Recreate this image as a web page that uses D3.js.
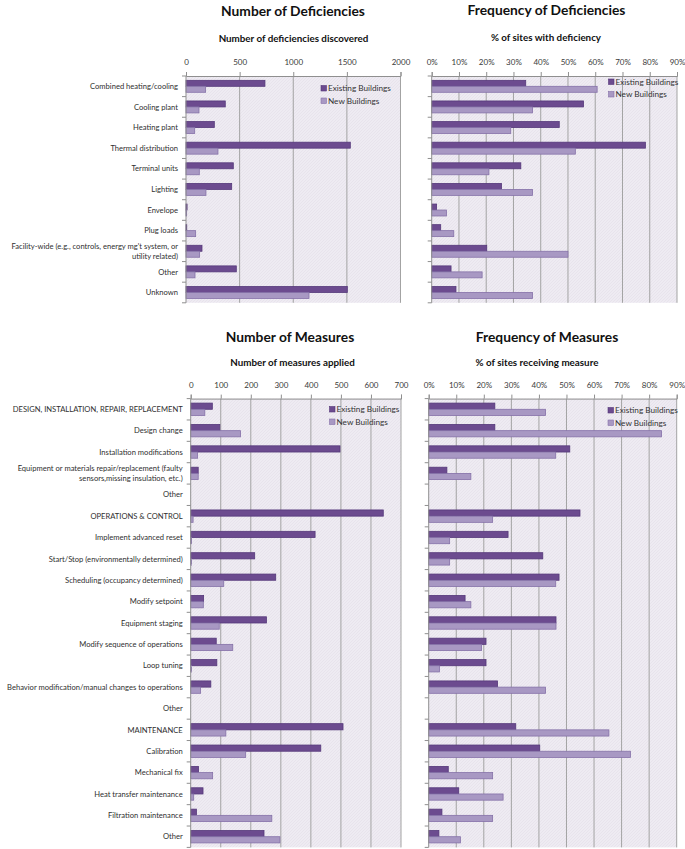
<!DOCTYPE html>
<html><head><meta charset="utf-8">
<script src="https://cdn.jsdelivr.net/npm/d3@7"></script>
<style>
body{margin:0;background:#fff;}
svg{display:block;font-family:Lato, "Open Sans", sans-serif;}
</style></head>
<body><svg id="c" width="685" height="849"></svg>
<script>
// ---------- data ----------
const seriesNames = ["Existing Buildings", "New Buildings"];

const defCategories = ["Combined heating/cooling","Cooling plant","Heating plant","Thermal distribution","Terminal units","Lighting","Envelope","Plug loads","Facility-wide (e.g., controls, energy mg't system, or\nutility related)","Other","Unknown"];
const defCountExisting = [736, 366, 264, 1532, 441, 426, 10, 7, 149, 469, 1504];
const defCountNew      = [183, 121, 81, 298, 124, 186, 6, 90, 127, 84, 1147];
const defFreqExisting  = [34.5, 55.7, 46.8, 78.4, 32.7, 25.6, 1.8, 3.3, 20.2, 7.1, 8.9];
const defFreqNew       = [60.7, 37.0, 29.0, 52.7, 21.0, 37.0, 5.4, 8.1, 50.0, 18.5, 37.0];

const measCategories = ["DESIGN, INSTALLATION, REPAIR, REPLACEMENT","Design change","Installation modifications","Equipment or materials repair/replacement (faulty\nsensors,missing insulation, etc.)","Other","OPERATIONS & CONTROL","Implement advanced reset","Start/Stop (environmentally determined)","Scheduling (occupancy determined)","Modify setpoint","Equipment staging","Modify sequence of operations","Loop tuning","Behavior modification/manual changes to operations","Other","MAINTENANCE","Calibration","Mechanical fix","Heat transfer maintenance","Filtration maintenance","Other"];
const measCountExisting = [72, 97, 497, 25, 0, 641, 414, 213, 283, 43, 252, 85, 87, 67, 0, 507, 433, 26, 41, 19, 244];
const measCountNew      = [47, 166, 23, 25, 0, 8, 3, 3, 110, 42, 95, 140, 3, 33, 0, 117, 183, 73, 10, 270, 297];
const measFreqExisting  = [24.0, 24.0, 51.2, 6.6, 0, 54.9, 28.8, 41.4, 47.3, 13.2, 46.2, 20.8, 20.8, 25.0, 0, 31.6, 40.3, 7.1, 10.9, 4.8, 3.7];
const measFreqNew       = [42.4, 84.5, 46.1, 15.3, 0, 23.2, 7.6, 7.6, 46.1, 15.3, 46.2, 19.2, 3.9, 42.4, 0, 65.4, 73.2, 23.2, 27.0, 23.2, 11.5];

const defCountTicks = [0, 500, 1000, 1500, 2000];
const measCountTicks = [0, 100, 200, 300, 400, 500, 600, 700];
const pctTicks = [0, 10, 20, 30, 40, 50, 60, 70, 80, 90];

const titles = ["Number of Deficiencies", "Frequency of Deficiencies", "Number of Measures", "Frequency of Measures"];
const subtitles = ["Number of deficiencies discovered", "% of sites with deficiency", "Number of measures applied", "% of sites receiving measure"];

// ---------- drawing ----------
const svg = d3.select("#c");
const colors = {fill: ["#6c4b8f", "#a898c3"], stroke: ["#55387a", "#8571a8"]};

const defs = svg.append("defs");
const pat = defs.append("pattern").attr("id", "hatch").attr("patternUnits", "userSpaceOnUse")
  .attr("width", 3).attr("height", 3);
pat.append("rect").attr("width", 3).attr("height", 3).attr("fill", "#eeebf2");
pat.append("path").attr("d", "M0,3 L3,0").attr("stroke", "#e5e0ea").attr("stroke-width", 0.7);

function panel(o) {
  const g = svg.append("g");
  const x = d3.scaleLinear().domain([o.ticks[0], o.ticks[o.ticks.length - 1]]).range([o.x0, o.x1]);
  const y = d3.scaleBand().domain(d3.range(o.cats.length)).range([o.top, o.bottom])
    .paddingInner(0.42).paddingOuter(0.21);
  const ys = d3.scaleBand().domain([0, 1]).range([0, y.bandwidth()]);

  // background
  g.append("rect").attr("x", o.x0).attr("y", o.top).attr("width", o.x1 - o.x0).attr("height", o.bottom - o.top)
    .attr("fill", "url(#hatch)");
  // grid
  g.selectAll(".grid").data(o.ticks.slice(1)).join("line")
    .attr("x1", d => x(d)).attr("x2", d => x(d)).attr("y1", o.top).attr("y2", o.bottom)
    .attr("stroke", "#a3a3a3").attr("stroke-width", 1);

  // bars
  const rows = o.cats.map((c, i) => ({i, v: [o.ex[i], o.nw[i]]}));
  rows.forEach(r => {
    r.v.forEach((v, s) => {
      if (v <= 0) return;
      g.append("rect")
        .attr("x", x(0)).attr("y", y(r.i) + ys(s))
        .attr("width", x(v) - x(0)).attr("height", ys.bandwidth())
        .attr("fill", colors.fill[s]).attr("stroke", colors.stroke[s]).attr("stroke-width", 0.8);
    });
  });

  // top axis
  const ax = d3.axisTop(x).tickValues(o.ticks).tickFormat(o.fmt).tickSize(4).tickPadding(7);
  const axg = g.append("g").attr("transform", `translate(0,${o.top})`).call(ax);
  axg.select(".domain").attr("stroke", "#8f8f8f");
  axg.selectAll(".tick line").attr("stroke", "#8f8f8f");
  axg.selectAll(".tick text").attr("fill", "#3a3a3a").attr("font-size", 8).attr("font-family", "Lato");

  // left axis line and ticks at band boundaries
  g.append("line").attr("x1", o.x0).attr("x2", o.x0).attr("y1", o.top).attr("y2", o.bottom)
    .attr("stroke", "#8f8f8f");
  const step = y.step();
  g.selectAll(".ytick").data(d3.range(o.cats.length + 1)).join("line")
    .attr("x1", o.x0 - 4).attr("x2", o.x0)
    .attr("y1", d => o.top + d * step).attr("y2", d => o.top + d * step)
    .attr("stroke", "#8f8f8f");

  // category labels
  if (o.labels) {
    o.cats.forEach((c, i) => {
      const lines = c.split("\n");
      const cy = y(i) + y.bandwidth() / 2;
      const t = g.append("text").attr("x", o.x0 - 8).attr("text-anchor", "end")
        .attr("font-size", 7.6).attr("fill", "#2f2f2f");
      lines.forEach((l, k) => {
        t.append("tspan").attr("x", o.x0 - 8)
          .attr("y", cy + (k - (lines.length - 1) / 2) * 10.5)
          .attr("dy", "0.35em").text(l);
      });
    });
  }

  // titles
  svg.append("text").attr("x", o.tx).attr("y", o.ty).attr("text-anchor", "middle")
    .attr("dy", "0.35em").attr("font-size", 13.8).attr("font-weight", "bold").attr("fill", "#111").text(o.title);
  svg.append("text").attr("x", o.sx).attr("y", o.sy).attr("text-anchor", "middle")
    .attr("dy", "0.35em").attr("font-size", 9.8).attr("font-weight", "bold").attr("fill", "#111").text(o.sub);

  // legend
  seriesNames.forEach((n, s) => {
    const ly = o.ly + s * 12.5;
    g.append("rect").attr("x", o.lx).attr("y", ly - 3).attr("width", 5.5).attr("height", 5.5)
      .attr("fill", colors.fill[s]).attr("stroke", colors.stroke[s]).attr("stroke-width", 0.6);
    g.append("text").attr("x", o.lx + 7).attr("y", ly).attr("dy", "0.35em")
      .attr("font-size", 8.2).attr("fill", "#333").text(n);
  });
}

const pctFmt = d => d + "%";

panel({cats: defCategories, ex: defCountExisting, nw: defCountNew, ticks: defCountTicks, fmt: d3.format("d"),
  x0: 186, x1: 400.5, top: 76, bottom: 302.8, labels: true,
  title: titles[0], tx: 293, ty: 11, sub: subtitles[0], sx: 293.5, sy: 39, lx: 321, ly: 88.5});
panel({cats: defCategories, ex: defFreqExisting, nw: defFreqNew, ticks: pctTicks, fmt: pctFmt,
  x0: 431.7, x1: 677, top: 76, bottom: 302.8, labels: false,
  title: titles[1], tx: 546.5, ty: 10, sub: subtitles[1], sx: 546, sy: 38, lx: 608.5, ly: 82});
panel({cats: measCategories, ex: measCountExisting, nw: measCountNew, ticks: measCountTicks, fmt: d3.format("d"),
  x0: 190.7, x1: 401, top: 398.6, bottom: 847.4, labels: true,
  title: titles[2], tx: 290, ty: 337, sub: subtitles[2], sx: 292.5, sy: 362.5, lx: 329.5, ly: 409.5});
panel({cats: measCategories, ex: measFreqExisting, nw: measFreqNew, ticks: pctTicks, fmt: pctFmt,
  x0: 428.7, x1: 676.7, top: 398.6, bottom: 847.4, labels: false,
  title: titles[3], tx: 547, ty: 337, sub: subtitles[3], sx: 537, sy: 362.5, lx: 608, ly: 410.5});
</script>
</body></html>
